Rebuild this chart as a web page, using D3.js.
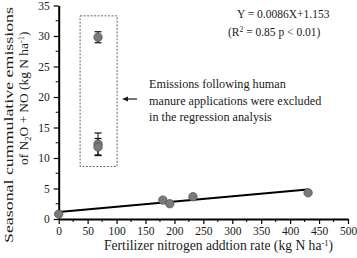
<!DOCTYPE html>
<html><head><meta charset="utf-8">
<script src="https://cdn.jsdelivr.net/npm/d3@7"></script>
<style>body{margin:0;background:#fff}svg{display:block}</style>
</head><body><svg id="c" width="357" height="258"></svg>
<script>
// data
const rates = [0, 68, 68, 68, 180, 192, 232, 431];
const emissions = [0.8, 29.8, 12.3, 11.8, 3.1, 2.5, 3.65, 4.3];
const errors = [0.2, 0.9, 1.8, 1.4, 0.2, 0.2, 0.2, 0.2];
const xTicks = [0, 50, 100, 150, 200, 250, 300, 350, 400, 450, 500];
const yTicks = [0, 5, 10, 15, 20, 25, 30, 35];
const slope = 0.0086, intercept = 1.153;
const fitRange = [0, 430];
const excludedBox = {x0: 37, x1: 101, y0: 8.6, y1: 33.3};
const noteLines = ["Emissions following human", "manure applications were excluded", "in the regression analysis"];

const FONT = '"Liberation Serif"';
const INK = "#1a1a1a";
const svg = d3.select("#c").style("font-family", FONT).attr("font-family", "Liberation Serif");
const x = d3.scaleLinear().domain([0, 500]).range([58.7, 348]);
const y = d3.scaleLinear().domain([0, 35]).range([219, 5.5]);

function txt(parent) {
  return parent.append("text").style("font-family", FONT).attr("fill", INK);
}

// minor ticks
const g = svg.append("g");
g.selectAll(".xm").data(d3.range(25, 500, 50)).join("line")
  .attr("x1", d => x(d)).attr("x2", d => x(d)).attr("y1", y(0)).attr("y2", y(0) + 3)
  .attr("stroke", "#000").attr("stroke-width", 1);
g.selectAll(".ym").data(d3.range(2.5, 35, 5)).join("line")
  .attr("y1", d => y(d)).attr("y2", d => y(d)).attr("x1", x(0)).attr("x2", x(0) - 3)
  .attr("stroke", "#000").attr("stroke-width", 1);

const xa = svg.append("g").attr("transform", `translate(0,${y(0)})`)
  .call(d3.axisBottom(x).tickValues(xTicks).tickSize(5).tickPadding(3).tickSizeOuter(0));
const ya = svg.append("g").attr("transform", `translate(${x(0)},0)`)
  .call(d3.axisLeft(y).tickValues(yTicks).tickSize(5).tickPadding(4).tickSizeOuter(0));
[xa, ya].forEach(a => {
  a.attr("font-family", "Liberation Serif").attr("font-size", 11.5);
  a.select(".domain").attr("stroke", "#000").attr("stroke-width", 2);
  a.selectAll(".tick line").attr("stroke", "#000").attr("stroke-width", 1.2);
  a.selectAll("text").style("font-family", FONT).style("font-size", "11.5px").attr("fill", INK);
});

// dashed box
svg.append("rect")
  .attr("x", x(excludedBox.x0)).attr("y", y(excludedBox.y1))
  .attr("width", x(excludedBox.x1) - x(excludedBox.x0))
  .attr("height", y(excludedBox.y0) - y(excludedBox.y1))
  .attr("fill", "none").attr("stroke", "#666").attr("stroke-width", 1).attr("stroke-dasharray", "2,1.5");

// regression line
svg.append("line")
  .attr("x1", x(fitRange[0])).attr("y1", y(intercept + slope * fitRange[0]))
  .attr("x2", x(fitRange[1])).attr("y2", y(intercept + slope * fitRange[1]))
  .attr("stroke", "#000").attr("stroke-width", 2);

const pts = rates.map((r, i) => ({r, e: emissions[i], s: errors[i]}));
const eb = svg.append("g");
pts.forEach(p => {
  eb.append("line").attr("x1", x(p.r)).attr("x2", x(p.r)).attr("y1", y(p.e - p.s)).attr("y2", y(p.e + p.s))
    .attr("stroke", "#111").attr("stroke-width", 1);
  [p.e - p.s, p.e + p.s].forEach(v => eb.append("line")
    .attr("x1", x(p.r) - 3.5).attr("x2", x(p.r) + 3.5).attr("y1", y(v)).attr("y2", y(v))
    .attr("stroke", "#111").attr("stroke-width", 1.2));
});
svg.append("g").selectAll("circle").data(pts).join("circle")
  .attr("cx", d => x(d.r)).attr("cy", d => y(d.e)).attr("r", 4.2)
  .attr("fill", "#7a7a7a").attr("stroke", "#555").attr("stroke-width", 0.8);

// equation
txt(svg).attr("x", 237).attr("y", 18).style("font-size", "11.5px").text("Y = 0.0086X+1.153");
const t2 = txt(svg).attr("x", 228).attr("y", 36).style("font-size", "11.5px");
t2.append("tspan").text("(R");
t2.append("tspan").attr("dy", -4).style("font-size", "7.5px").text("2");
t2.append("tspan").attr("dy", 4).text(" = 0.85 p < 0.01)");

// arrow
svg.append("line").attr("x1", 137).attr("x2", 127).attr("y1", 99).attr("y2", 99).attr("stroke", INK).attr("stroke-width", 1.2);
svg.append("path").attr("d", "M122,99 L128,96.5 L128,101.5 Z").attr("fill", INK);

noteLines.forEach((d, i) => txt(svg).attr("x", 149).attr("y", 88 + i * 16.5).style("font-size", "12.2px").text(d));

// axis titles
const xt = txt(svg).attr("x", 104).attr("y", 250).style("font-size", "13.6px");
xt.append("tspan").text("Fertilizer nitrogen addtion rate (kg N ha");
xt.append("tspan").attr("dy", -4.5).style("font-size", "8.5px").text("-1");
xt.append("tspan").attr("dy", 4.5).text(")");

txt(svg).attr("transform", "translate(13,243) rotate(-90)")
  .style("font-size", "13.5px")
  .attr("textLength", 236).attr("lengthAdjust", "spacingAndGlyphs")
  .text("Seasonal cummulative emissions");
const y2 = txt(svg).attr("transform", "translate(28,165) rotate(-90)").style("font-size", "13.4px");
y2.append("tspan").text("of N");
y2.append("tspan").attr("dy", 3).style("font-size", "8.5px").text("2");
y2.append("tspan").attr("dy", -3).text("O + NO (kg N ha");
y2.append("tspan").attr("dy", -4.5).style("font-size", "8.5px").text("-1");
y2.append("tspan").attr("dy", 4.5).text(")");
</script></body></html>
